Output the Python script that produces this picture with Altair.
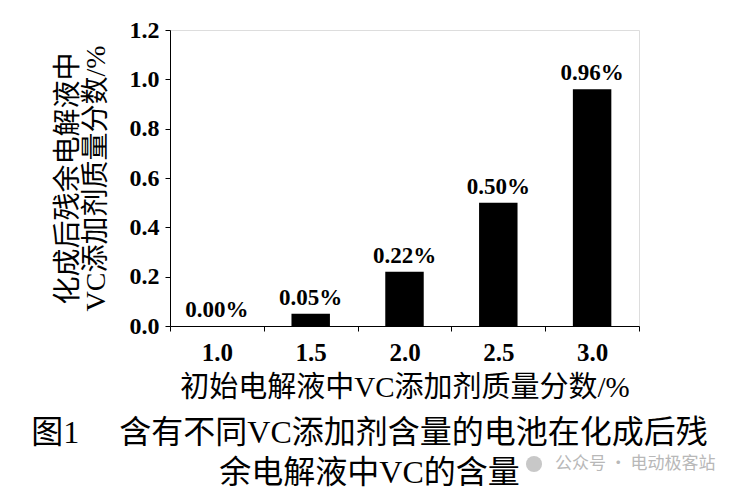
import altair as alt
import pandas as pd

categories = ["1.0", "1.5", "2.0", "2.5", "3.0"]
values = [0.00, 0.05, 0.22, 0.50, 0.96]
y_ticks = [0.0, 0.2, 0.4, 0.6, 0.8, 1.0, 1.2]
x_title = "初始电解液中VC添加剂质量分数/%"
y_title = ["化成后残余电解液中", "VC添加剂质量分数/%"]
caption = ["图1\u3000 含有不同VC添加剂含量的电池在化成后残", "余电解液中VC的含量"]
watermark = "公众号 · 电动极客站"

df = pd.DataFrame({"cat": categories, "v": values})

SERIF = "Liberation Serif, Noto Sans CJK SC"

x_enc = alt.X(
    "cat:N",
    sort=categories,
    scale=alt.Scale(paddingInner=0, paddingOuter=0),
    axis=alt.Axis(
        title=x_title,
        labelAngle=0,
        tickBand="extent",
        labelFont="Liberation Serif",
        labelFontWeight="bold",
        labelFontSize=25,
        labelColor="black",
        labelPadding=9,
        titleFont=SERIF,
        titleFontWeight="normal",
        titleFontSize=29,
        titleColor="black",
        titlePadding=8,
        domainColor="black",
        tickColor="black",
        tickSize=5,
    ),
)
y_enc = alt.Y(
    "v:Q",
    scale=alt.Scale(domain=[0, 1.2]),
    axis=alt.Axis(
        title=y_title,
        values=y_ticks,
        format=".1f",
        grid=False,
        labelFont="Liberation Serif",
        labelFontWeight="bold",
        labelFontSize=24,
        labelColor="black",
        labelPadding=6,
        titleFont=SERIF,
        titleFontWeight="normal",
        titleFontSize=28,
        titleColor="black",
        titleLineHeight=28,
        titlePadding=19,
        domainColor="black",
        tickColor="black",
        tickSize=5,
    ),
)

base = alt.Chart(df)
bars = base.mark_bar(color="black", width=alt.RelativeBandSize(0.41)).encode(x=x_enc, y=y_enc)
labels = base.transform_calculate(
    lab="format(datum.v, '.2f') + '%'"
).mark_text(
    font="Liberation Serif", fontWeight="bold", fontSize=23, baseline="bottom", dy=-4, color="black"
).encode(x=alt.X("cat:N", sort=categories), y="v:Q", text="lab:N")

wm_df = pd.DataFrame({"t": [watermark]})
wm = alt.Chart(wm_df).mark_text(
    font="Noto Sans CJK SC", fontSize=17, color="#b8b8b8", align="left", baseline="middle"
).encode(x=alt.value(385), y=alt.value(434), text="t:N")
wm_icon = alt.Chart(wm_df).mark_point(
    shape="circle", filled=True, color="#c8c8c8", opacity=1, size=260
).encode(x=alt.value(364), y=alt.value(434))

chart = alt.layer(bars, labels, wm_icon, wm).properties(
    width=469,
    height=296,
    autosize=alt.AutoSizeParams(type="none"),
    padding={"left": 162, "top": 22, "right": 100, "bottom": 168},
    title=alt.TitleParams(
        text=caption,
        orient="bottom",
        anchor="middle",
        font=SERIF,
        fontSize=32,
        fontWeight="normal",
        color="black",
        lineHeight=40,
        offset=-54,
        dx=-35,
    ),
).configure_view(stroke=None).configure(background="white")

chart.save("out.html", embed_options={"renderer": "svg", "actions": False})
